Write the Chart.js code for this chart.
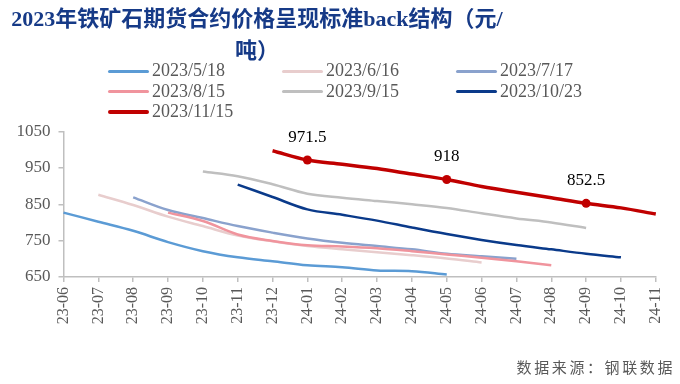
<!DOCTYPE html>
<html>
<head>
<meta charset="utf-8">
<script src="https://cdn.jsdelivr.net/npm/chart.js@4"></script>
<style>
    html, body { margin: 0; padding: 0; background: #fff; }
    #wrap { position: relative; width: 680px; height: 384px; overflow: hidden; }
    #chart { position: absolute; left: 0; top: 0; }
    #title {
        position: absolute; left: 0; top: 3px; width: 514px;
        text-align: center; font: bold 22px/32px "Liberation Serif", "Noto Sans CJK SC", serif;
        color: #163a87;
    }
    #legend { position: absolute; left: 0; top: 60px; width: 680px; height: 62px; }
    .item { position: absolute; height: 20px; font: 18px "Liberation Serif", serif; color: #595959; white-space: nowrap; }
    .item span.sw { position: absolute; left: 0; width: 41px; border-radius: 2px; }
    .item span.tx { position: absolute; left: 44px; top: 0; line-height: 20px; }
    #source {
        position: absolute; right: 5px; top: 356px;
        font: 15px "Noto Sans CJK SC", sans-serif; letter-spacing: 2.6px; color: #595959;
    }
</style>
</head>
<body>
<div id="wrap">
    <canvas id="chart" width="680" height="384"></canvas>
    <div id="title">2023年铁矿石期货合约价格呈现标准back结构（元/<br>吨）</div>
    <div id="legend"></div>
    <div id="source">数据来源：钢联数据</div>
</div>
<script>
// Mois des contrats (axe X)
const months = ['23-06', '23-07', '23-08', '23-09', '23-10', '23-11', '23-12', '24-01', '24-02',
                '24-03', '24-04', '24-05', '24-06', '24-07', '24-08', '24-09', '24-10', '24-11'];

// Courbes par date d'observation (12 contrats chacune)
const s0518 = [827, 802, 777, 746, 721, 704, 693, 682, 677, 668, 666, 657];
const s0616 = [876, 848, 816, 790, 764, 748, 735, 726, 718, 710, 701, 690];
const s0717 = [869, 834, 812, 790, 772, 756, 744, 735, 726, 714, 707, 700];
const s0815 = [827, 804, 767, 749, 737, 734, 729, 721, 712, 703, 693, 682];
const s0915 = [940, 927, 905, 879, 868, 859, 850, 840, 825, 811, 800, 785];
const s1023 = [904, 870, 836, 821, 805, 786, 768, 752, 738, 726, 714, 704];
const s1115 = [997, 971.5, 960, 948, 933, 918, 899, 883, 868, 852.5, 840, 823];

// Premier mois de chaque courbe
const startIdx = [0, 1, 2, 3, 4, 5, 6];

const names = ['2023/5/18', '2023/6/16', '2023/7/17', '2023/8/15', '2023/9/15', '2023/10/23', '2023/11/15'];
const colors = ['#5b9bd5', '#e8cdcd', '#8aa2cd', '#f0949d', '#bfbfbf', '#0a3a8a', '#c00000'];
const series = [s0518, s0616, s0717, s0815, s0915, s1023, s1115];

// Points marqués sur la dernière courbe
const markedMonths = ['24-01', '24-05', '24-09'];

const yTicks = [650, 750, 850, 950, 1050];

function padSeries(values, start) {
    return months.map((m, i) => {
        const k = i - start;
        return (k >= 0 && k < values.length) ? values[k] : null;
    });
}

const markedIdx = markedMonths.map(m => months.indexOf(m));

const datasets = series.map((vals, i) => {
    const isLast = i === series.length - 1;
    return {
        label: names[i],
        data: padSeries(vals, startIdx[i]),
        borderColor: colors[i],
        backgroundColor: colors[i],
        borderWidth: isLast ? 3.5 : 2.5,
        tension: 0.35,
        fill: false,
        order: series.length - i,
        pointRadius: isLast ? (c => markedIdx.includes(c.dataIndex) ? 4.5 : 0) : 0,
        pointHoverRadius: 0,
        pointBorderWidth: 0
    };
});

// Légende en HTML (3 colonnes)
const legendEl = document.getElementById('legend');
names.forEach((n, i) => {
    const col = i % 3, row = Math.floor(i / 3);
    const item = document.createElement('div');
    item.className = 'item';
    item.style.left = (108 + col * 174) + 'px';
    item.style.top = (row * 20.5) + 'px';
    const h = i === names.length - 1 ? 4 : 3;
    item.innerHTML = '<span class="sw" style="background:' + colors[i] + ';height:' + h + 'px;top:' + (11 - h / 2) + 'px"></span>' +
                     '<span class="tx">' + n + '</span>';
    legendEl.appendChild(item);
});

// Étiquettes de valeur au-dessus des points marqués
const valueLabels = {
    id: 'valueLabels',
    afterDatasetsDraw(chart) {
        const last = series.length - 1;
        const meta = chart.getDatasetMeta(last);
        const ctx = chart.ctx;
        ctx.save();
        ctx.font = '17px "Liberation Serif", serif';
        ctx.fillStyle = '#000';
        ctx.textAlign = 'center';
        ctx.textBaseline = 'middle';
        markedIdx.forEach(i => {
            const p = meta.data[i];
            ctx.fillText(String(datasets[last].data[i]), p.x, p.y - 23);
        });
        ctx.restore();
    }
};

new Chart(document.getElementById('chart'), {
    type: 'line',
    data: { labels: months, datasets: datasets },
    plugins: [valueLabels],
    options: {
        responsive: false,
        animation: false,
        layout: { padding: { top: 131.5, left: 0, right: 22, bottom: 47 } },
        plugins: {
            legend: { display: false },
            title: { display: false },
            tooltip: { enabled: false }
        },
        scales: {
            x: {
                offset: false,
                border: { display: true, color: '#bfbfbf', width: 1.5 },
                grid: { drawOnChartArea: false, drawTicks: true, tickLength: 5, color: '#bfbfbf', lineWidth: 1.5 },
                ticks: {
                    autoSkip: false,
                    minRotation: 90,
                    maxRotation: 90,
                    padding: 5,
                    color: '#595959',
                    font: { family: '"Liberation Serif", serif', size: 16 }
                },
                afterFit: function(scale) { scale.height = 60; }
            },
            y: {
                min: 650,
                max: 1050,
                border: { display: true, color: '#bfbfbf', width: 1.5 },
                grid: { drawOnChartArea: false, drawTicks: true, tickLength: 5, color: '#bfbfbf', lineWidth: 1.5 },
                afterBuildTicks: function(scale) { scale.ticks = yTicks.map(v => ({ value: v })); },
                ticks: {
                    padding: 8,
                    color: '#595959',
                    font: { family: '"Liberation Serif", serif', size: 17 },
                    callback: function(value) { return String(value); }
                },
                afterFit: function(scale) { scale.width = 63.5; }
            }
        }
    }
});
</script>
</body>
</html>
